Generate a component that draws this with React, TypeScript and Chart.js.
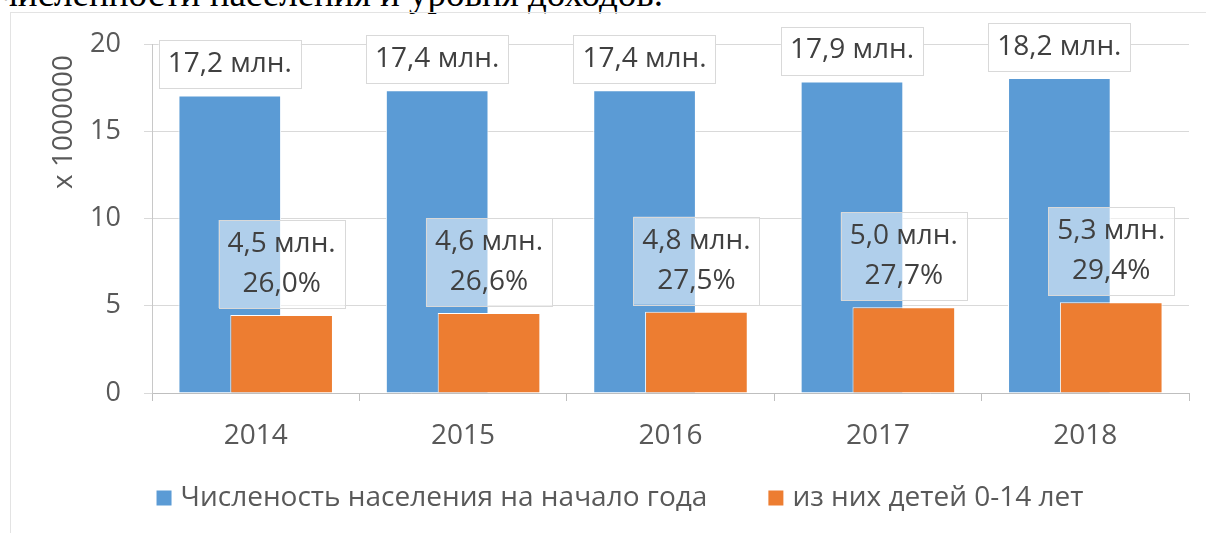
import React, { useEffect, useRef } from "react";
import { Chart, registerables } from "chart.js";

Chart.register(...registerables);

const years = ["2014", "2015", "2016", "2017", "2018"];
const population = [17.05, 17.35, 17.35, 17.85, 18.05];
const children = [4.47, 4.58, 4.66, 4.91, 5.2];
const populationLabels = ["17,2 млн.", "17,4 млн.", "17,4 млн.", "17,9 млн.", "18,2 млн."];
const childrenLabels = ["4,5 млн.", "4,6 млн.", "4,8 млн.", "5,0 млн.", "5,3 млн."];
const childrenShares = ["26,0%", "26,6%", "27,5%", "27,7%", "29,4%"];
const seriesNames = ["Численость населения на начало года", "из них детей 0-14 лет"];
const seriesColors = ["#5B9BD5", "#ED7D31"];
const yMin = 0;
const yMax = 20;
const yStep = 5;
const yTitle = "x 1000000";
const headingText = "численности населения и уровня доходов.";

const FONT = "'Open Sans', 'DejaVu Sans', sans-serif";
const TEXT = "#595959";
const LABEL_TEXT = "#404040";

// Chart.js draws the first dataset on top; the reference shows the second
// (orange) series overlapping the first, so draw it after the others.
const overlapPlugin = {
  id: "overlapOrder",
  beforeDatasetDraw(chart: any, args: any) {
    if (args.index === 1) return false;
  },
  afterDatasetsDraw(chart: any) {
    const meta = chart.getDatasetMeta(1);
    const ctx = chart.ctx;
    const a = chart.chartArea;
    ctx.save();
    ctx.beginPath();
    ctx.rect(a.left, a.top, a.right - a.left, a.bottom - a.top);
    ctx.clip();
    meta.controller.draw();
    ctx.restore();
  },
};

const labelPlugin = {
  id: "boxLabels",
  afterDatasetsDraw(chart: any) {
    const ctx = chart.ctx;
    ctx.save();
    ctx.font = `28px ${FONT}`;
    ctx.textAlign = "center";
    ctx.textBaseline = "middle";
    const lineGap = 40;
    chart.data.datasets.forEach((ds: any, di: number) => {
      const meta = chart.getDatasetMeta(di);
      meta.data.forEach((el: any, i: number) => {
        const lines =
          di === 0 ? [populationLabels[i]] : [childrenLabels[i], childrenShares[i]];
        const w = Math.max(...lines.map((l) => ctx.measureText(l).width)) + 18;
        const h = lines.length * lineGap + 8;
        const bottom = el.y - 7;
        const top = bottom - h;
        const left = el.x - w / 2;
        ctx.fillStyle = di === 0 ? "#ffffff" : "rgba(255,255,255,0.52)";
        ctx.fillRect(left, top, w, h);
        ctx.strokeStyle = "#d9d9d9";
        ctx.lineWidth = 1;
        ctx.strokeRect(Math.round(left) + 0.5, Math.round(top) + 0.5, Math.round(w), Math.round(h));
        ctx.fillStyle = LABEL_TEXT;
        lines.forEach((l, k) => {
          ctx.fillText(l, el.x, top + 4 + lineGap / 2 + k * lineGap);
        });
      });
    });
    ctx.restore();
  },
};

const extrasPlugin = {
  id: "extras",
  afterDraw(chart: any) {
    const ctx = chart.ctx;
    ctx.save();
    // y axis title
    ctx.font = `28px ${FONT}`;
    ctx.fillStyle = TEXT;
    ctx.textAlign = "center";
    ctx.textBaseline = "middle";
    ctx.translate(64, 122);
    ctx.rotate(-Math.PI / 2);
    ctx.fillText(yTitle, 0, 0);
    ctx.restore();

    // legend
    ctx.save();
    ctx.font = `28px ${FONT}`;
    ctx.textBaseline = "middle";
    ctx.textAlign = "left";
    const box = 15;
    const textGap = 9;
    const itemGap = 61;
    const widths = seriesNames.map((n) => box + textGap + ctx.measureText(n).width);
    const total = widths.reduce((a, b) => a + b, 0) + itemGap * (widths.length - 1);
    let x = 620 - total / 2;
    const cy = 498;
    seriesNames.forEach((n, i) => {
      ctx.fillStyle = seriesColors[i];
      ctx.fillRect(x, cy - box / 2, box, box);
      ctx.fillStyle = TEXT;
      ctx.fillText(n, x + box + textGap, cy);
      x += widths[i] + itemGap;
    });
    ctx.restore();
  },
};

export default function App() {
  const ref = useRef<HTMLCanvasElement>(null);
  useEffect(() => {
    if (!ref.current) return;
    const chart = new Chart(ref.current, {
      type: "bar",
      data: {
        labels: years,
        datasets: [
          {
            label: seriesNames[0],
            data: population,
            backgroundColor: seriesColors[0],
            borderColor: "#ffffff",
            borderWidth: 1,
            categoryPercentage: 0.5,
            barPercentage: 1.98,
          },
          {
            label: seriesNames[1],
            data: children,
            backgroundColor: seriesColors[1],
            borderColor: "#ffffff",
            borderWidth: 1,
            categoryPercentage: 0.5,
            barPercentage: 1.98,
          },
        ],
      },
      options: {
        animation: false,
        responsive: false,
        devicePixelRatio: 1,
        layout: { padding: { top: 44, right: 17, left: 0, bottom: 0 } },
        plugins: { legend: { display: false }, tooltip: { enabled: false } },
        scales: {
          x: {
            grid: {
              display: true,
              drawOnChartArea: false,
              drawTicks: true,
              tickLength: 8,
              offset: true,
              color: "#bfbfbf",
            },
            border: { color: "#bfbfbf" },
            ticks: { font: { family: FONT, size: 28 }, color: TEXT, padding: 18 },
            afterFit: (s: any) => {
              s.height = 140;
            },
          },
          y: {
            min: yMin,
            max: yMax,
            ticks: { stepSize: yStep, font: { family: FONT, size: 27 }, color: TEXT, padding: 23 },
            grid: { color: "#d9d9d9", tickLength: 8 },
            border: { color: "#c8c8c8" },
            afterFit: (s: any) => {
              s.width = 152;
            },
          },
        },
      },
      plugins: [overlapPlugin, labelPlugin, extrasPlugin],
    });
    return () => chart.destroy();
  }, []);

  return (
    <div
      style={{
        position: "fixed",
        left: 0,
        top: 0,
        width: 1206,
        height: 533,
        overflow: "hidden",
        background: "#fff",
      }}
    >
      <span
        style={{
          position: "absolute",
          right: 543,
          top: -25,
          fontFamily: "'Liberation Serif', 'Times New Roman', serif",
          fontSize: 37,
          lineHeight: "37px",
          whiteSpace: "nowrap",
          color: "#000",
        }}
      >
        {headingText}
      </span>
      <div
        style={{
          position: "absolute",
          left: 10,
          top: 12,
          width: 1300,
          height: 600,
          border: "1px solid #e3e3e3",
        }}
      />
      <canvas
        ref={ref}
        width={1206}
        height={533}
        style={{ position: "absolute", left: 0, top: 0, width: 1206, height: 533 }}
      />
    </div>
  );
}
